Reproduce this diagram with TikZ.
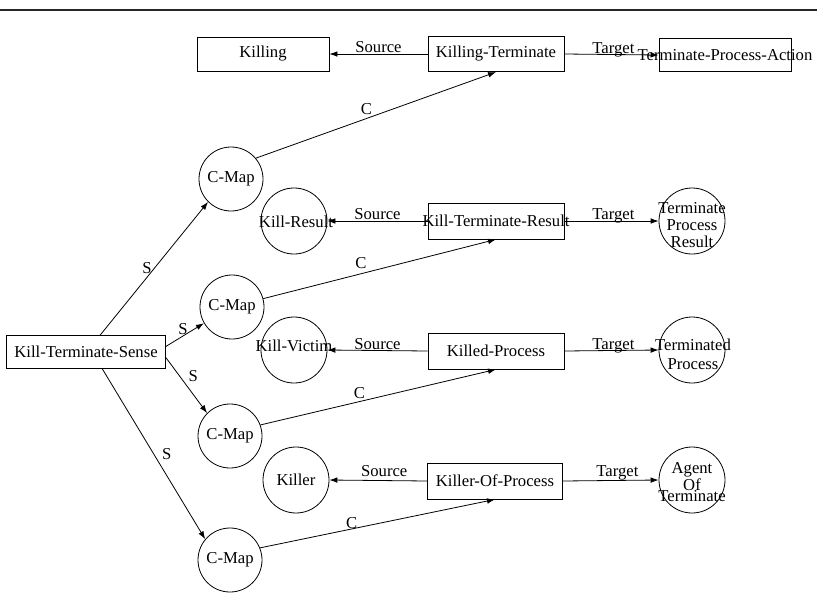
\documentclass[tikz,border=0pt]{standalone}
\usepackage{fontspec}
\setmainfont{Liberation Serif}
\usetikzlibrary{arrows.meta,calc}
\begin{document}
\begin{tikzpicture}[x=0.75pt,y=-0.75pt,
  every node/.style={font=\fontsize{12.5}{14}\selectfont},
  frame/.style={draw, rectangle, line width=0.6pt, inner sep=0pt},
  circ/.style={draw, circle, line width=0.6pt, inner sep=0pt, minimum size=49.5pt},
  cmap/.style={draw, circle, line width=0.6pt, inner sep=0pt, minimum size=48pt},
  txt/.style={inner sep=0pt, align=center},
  conn/.style={line width=0.6pt, -{Latex[length=6pt,width=4.2pt]}},
  elab/.style={inner sep=0pt, anchor=base},
]
\useasboundingbox (0,0) rectangle (817,593);

% top rule
\coordinate (rl) at (0,10);
\coordinate (rr) at (817,10);
\draw[line width=1pt, black!85] (rl) -- (rr);

% left sense node
\node[frame, minimum width=119.25pt, minimum height=24.75pt] (kts) at (86,352) {Kill-Terminate-Sense};

% C-Map circles
\node[cmap] (cm1) at (231,179) {C-Map};
\node[cmap] (cm2) at (232,307) {C-Map};
\node[cmap] (cm3) at (230,436) {C-Map};
\node[cmap] (cm4) at (230,560) {C-Map};

% row 1
\node[frame, minimum width=99pt, minimum height=25.5pt] (killing) at (263,54) {Killing};
\node[frame, minimum width=102pt, minimum height=26.5pt] (kt) at (496,54) {Killing-Terminate};
\node[frame, minimum width=99pt, minimum height=25pt] (tpa) at (725,55) {};
\node[txt] (tpat) at (725,55) {Terminate-Process-Action};

% row 2
\node[circ] (kres) at (294,221) {};
\node[txt] (krest) at (296,222) {Kill-Result};
\node[frame, minimum width=102pt, minimum height=27pt] (ktr) at (496,221) {};
\node[txt] (ktrt) at (496,221) {Kill-Terminate-Result};
\node[circ] (tpr) at (692,221) {};
\node[txt, font=\fontsize{12.5}{12.75}\selectfont] (tprt) at (692,225) {Terminate\\Process\\Result};

% row 3
\node[circ] (kvic) at (294,350) {};
\node[txt] (kvict) at (294,346) {Kill-Victim};
\node[frame, minimum width=102pt, minimum height=27pt] (kp) at (496,351) {Killed-Process};
\node[circ] (tp) at (692,350) {};
\node[txt, font=\fontsize{12.5}{14}\selectfont] (tpt) at (693,354) {Terminated\\Process};

% row 4
\node[circ] (killer) at (296,480) {};
\node[txt] (killert) at (296,480) {Killer};
\node[frame, minimum width=101pt, minimum height=27pt] (kop) at (495,481) {Killer-Of-Process};
\node[circ] (aot) at (692,480) {};
\node[txt, font=\fontsize{12.5}{8.6}\selectfont] (aott) at (692,482) {Agent\\Of\\Terminate};

% S connectors
\draw[conn] (kts.50) -- (cm1.225) node[pos=0.5, anchor=east, inner sep=1.5pt] (s1) {S};
\draw[conn] (kts.4) -- (cm2.210) node[pos=0.45, anchor=south, inner sep=1pt] (s2) {S};
\draw[conn] (kts.-4) -- (cm3.135) node[pos=0.33, anchor=west, inner sep=0pt, xshift=6.5pt] (s3) {S};
\draw[conn] (kts.-46) -- (cm4.140) node[pos=0.5, anchor=west, inner sep=0pt, xshift=6pt] (s4) {S};

% C connectors
\draw[conn] (cm1.40) -- (kt.south) node[elab, pos=0.46, yshift=3pt] (c1) {C};
\draw[conn] (cm2.15) -- (ktr.south) node[elab, pos=0.42, yshift=4pt] (c2) {C};
\draw[conn] (cm3.20) -- (kp.south) node[elab, pos=0.42, yshift=2pt] (c3) {C};
\draw[conn] (cm4.22) -- (kop.south) node[elab, pos=0.39, yshift=0.5pt] (c4) {C};

% Source connectors
\draw[conn] (kt.west) -- (killing.east) node[elab, pos=0.5, yshift=1pt] (src1) {Source};
\draw[conn] (ktr.west) -- (kres.east) node[elab, pos=0.5, yshift=1pt] (src2) {Source};
\draw[conn] (kp.west) -- (kvic.east) node[elab, pos=0.5, yshift=1pt] (src3) {Source};
\draw[conn] (kop.west) -- (killer.east) node[elab, pos=0.44, yshift=3pt] (src4) {Source};

% Target connectors
\draw[conn] (kt.east) -- (tpa.west) node[elab, pos=0.52, yshift=0.5pt] (tg1) {Target};
\draw[conn] (ktr.east) -- (tpr.west) node[elab, pos=0.52, yshift=1pt] (tg2) {Target};
\draw[conn] (kp.east) -- (tp.west) node[elab, pos=0.52, yshift=1pt] (tg3) {Target};
\draw[conn] (kop.east) -- (aot.west) node[elab, pos=0.57, yshift=3pt] (tg4) {Target};
\end{tikzpicture}
\end{document}
